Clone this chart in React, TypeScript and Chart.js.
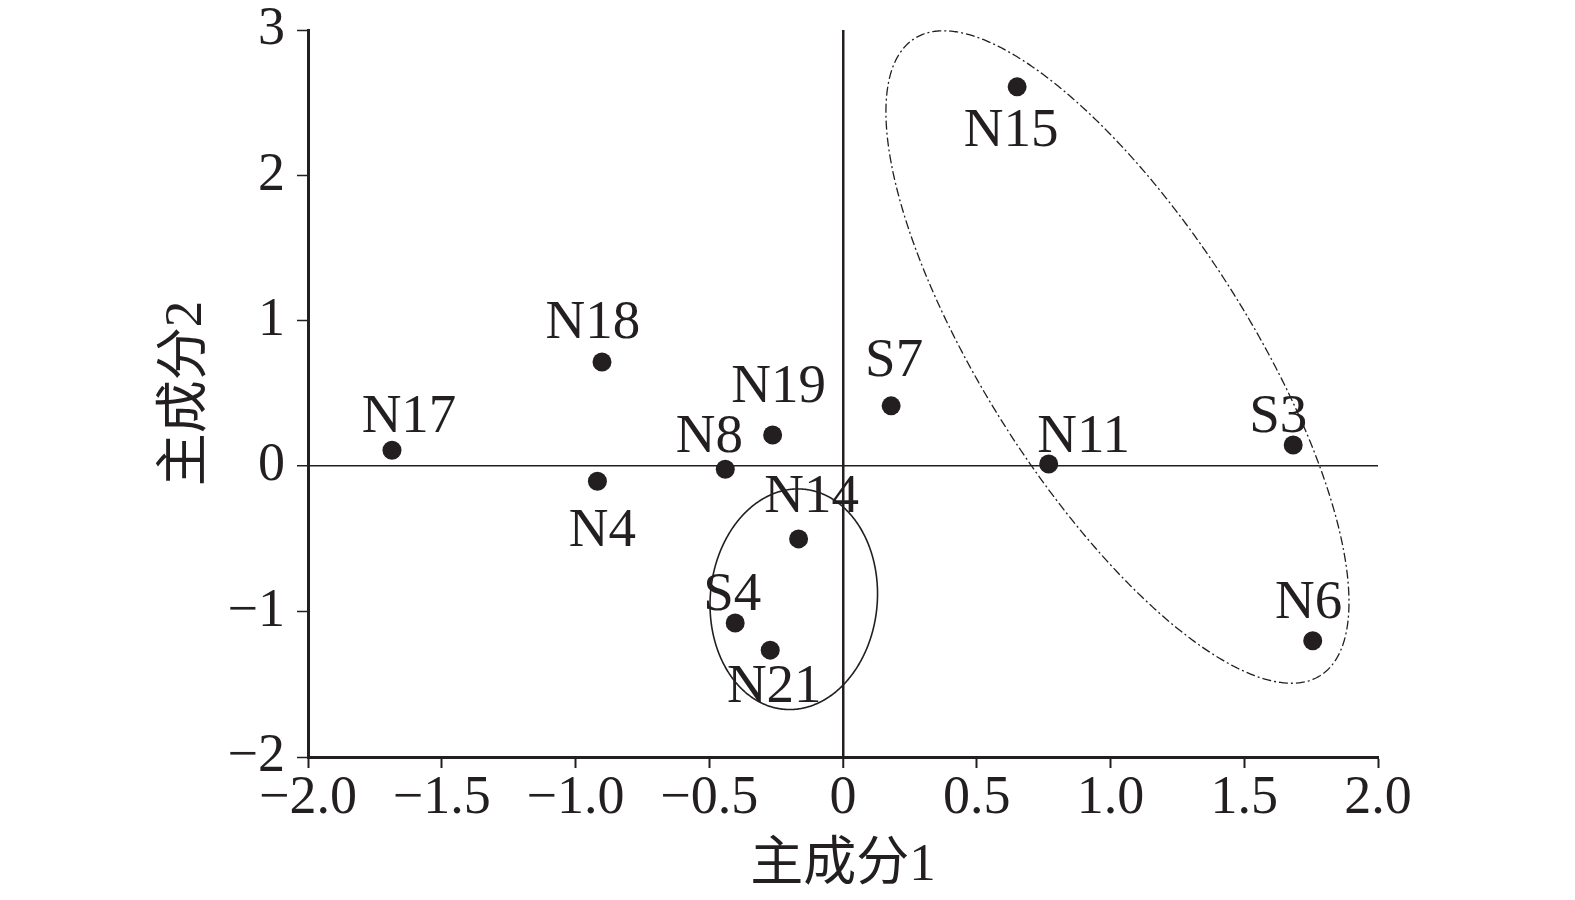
import React, { useEffect, useRef } from "react";
import { Chart, registerables } from "chart.js";

Chart.register(...registerables);

// ---- data ----
const POINT_NAMES = ["N17", "N18", "N4", "N8", "N19", "N14", "S4", "N21", "S7", "N15", "N11", "S3", "N6"];
const PC1 = [-1.686, -0.901, -0.918, -0.44, -0.263, -0.166, -0.403, -0.272, 0.18, 0.651, 0.769, 1.683, 1.756];
const PC2 = [0.11, 0.717, -0.103, -0.021, 0.215, -0.5, -1.078, -1.265, 0.415, 2.609, 0.015, 0.146, -1.201];

const X_TICKS = [-2, -1.5, -1, -0.5, 0, 0.5, 1, 1.5, 2];
const X_TICK_LABELS = ["−2.0", "−1.5", "−1.0", "−0.5", "0", "0.5", "1.0", "1.5", "2.0"];
const Y_TICKS = [-2, -1, 0, 1, 2, 3];
const Y_TICK_LABELS = ["−2", "−1", "0", "1", "2", "3"];

const X_TITLE = "主成分1";
const Y_TITLE = "主成分2";

// group ellipses in data units: centre + two conjugate half-axis vectors
const ELLIPSE_BIG = { cx: 1.026, cy: 0.751, u: [0.759, -2.19], v: [-0.416, -0.488] };
const ELLIPSE_SMALL = { cx: -0.184, cy: -0.915, u: [0.0361, 0.757], v: [0.311, -0.05] };

// ---- layout / style (label placement relative to its point, px) ----
const LABEL_OFFSETS: [number, number][] = [
  [17, -18], [-9, -24], [5, 65], [-16, -17], [6, -33], [13, -27], [-3, -13],
  [4, 52], [3, -30], [-6, 59], [35, -12], [-15, -13], [-4, -23],
];

const INK = "#231f20";
const SERIF = '"Liberation Serif", "Times New Roman", serif';
const TITLE_FONT = '"Liberation Serif", "Noto Sans CJK SC", serif';

function drawEllipse(chart: any, e: any, dash: number[], width: number) {
  const xs = chart.scales.x;
  const ys = chart.scales.y;
  const pcx = xs.getPixelForValue(e.cx);
  const pcy = ys.getPixelForValue(e.cy);
  const ux = xs.getPixelForValue(e.cx + e.u[0]) - pcx;
  const uy = ys.getPixelForValue(e.cy + e.u[1]) - pcy;
  const vx = xs.getPixelForValue(e.cx + e.v[0]) - pcx;
  const vy = ys.getPixelForValue(e.cy + e.v[1]) - pcy;
  const ctx = chart.ctx;
  ctx.save();
  ctx.beginPath();
  const n = 720;
  for (let i = 0; i <= n; i++) {
    const t = (i / n) * Math.PI * 2;
    const px = pcx + ux * Math.cos(t) + vx * Math.sin(t);
    const py = pcy + uy * Math.cos(t) + vy * Math.sin(t);
    if (i === 0) ctx.moveTo(px, py);
    else ctx.lineTo(px, py);
  }
  ctx.closePath();
  ctx.setLineDash(dash);
  ctx.lineWidth = width;
  ctx.strokeStyle = INK;
  ctx.stroke();
  ctx.restore();
}

const annotationPlugin = {
  id: "pcaAnnotations",
  beforeDatasetsDraw(chart: any) {
    drawEllipse(chart, ELLIPSE_BIG, [9, 3, 2, 3], 1.3);
    drawEllipse(chart, ELLIPSE_SMALL, [], 1.6);
  },
  afterDatasetsDraw(chart: any) {
    const meta = chart.getDatasetMeta(0);
    const ctx = chart.ctx;
    ctx.save();
    ctx.font = `55px ${SERIF}`;
    ctx.fillStyle = INK;
    ctx.textAlign = "center";
    ctx.textBaseline = "alphabetic";
    meta.data.forEach((el: any, i: number) => {
      const [dx, dy] = LABEL_OFFSETS[i];
      ctx.fillText(POINT_NAMES[i], el.x + dx, el.y + dy);
    });
    ctx.restore();
  },
};

export default function App() {
  const ref = useRef<HTMLCanvasElement>(null);
  useEffect(() => {
    const points = PC1.map((x, i) => ({ x, y: PC2[i] }));
    const chart = new Chart(ref.current as HTMLCanvasElement, {
      type: "scatter",
      data: {
        datasets: [
          {
            data: points,
            pointRadius: 9.5,
            pointHoverRadius: 9.5,
            pointBackgroundColor: INK,
            pointBorderWidth: 0,
            backgroundColor: INK,
          },
        ],
      },
      options: {
        responsive: false,
        animation: false,
        events: [],
        layout: { padding: { top: 30, right: 197, bottom: 0, left: 0 } },
        plugins: { legend: { display: false }, tooltip: { enabled: false } },
        scales: {
          x: {
            type: "linear",
            min: -2,
            max: 2,
            afterBuildTicks: (scale: any) => {
              scale.ticks = X_TICKS.map((v) => ({ value: v }));
            },
            afterFit: (scale: any) => {
              scale.height = 143;
              scale.paddingLeft = 0;
              scale.paddingRight = 0;
            },
            border: { display: true, width: 3, color: INK },
            grid: {
              drawOnChartArea: true,
              color: (c: any) => (c.tick && c.tick.value === 0 ? INK : "rgba(0,0,0,0)"),
              lineWidth: (c: any) => (c.tick && c.tick.value === 0 ? 2.5 : 1),
              tickColor: INK,
              tickWidth: 2,
              tickLength: 11,
            },
            ticks: {
              autoSkip: false,
              maxRotation: 0,
              padding: 4,
              color: INK,
              font: { family: SERIF, size: 54, lineHeight: 1 },
              callback: (v: any) => X_TICK_LABELS[X_TICKS.indexOf(Number(v))],
            },
            title: {
              display: true,
              text: X_TITLE,
              color: INK,
              font: { family: TITLE_FONT, size: 53 },
              padding: { top: 0, bottom: 2 },
            },
          },
          y: {
            type: "linear",
            min: -2,
            max: 3,
            afterBuildTicks: (scale: any) => {
              scale.ticks = Y_TICKS.map((v) => ({ value: v }));
            },
            afterFit: (scale: any) => {
              scale.width = 308;
              scale.paddingTop = 0;
              scale.paddingBottom = 0;
            },
            border: { display: true, width: 3, color: INK },
            grid: {
              drawOnChartArea: true,
              color: (c: any) => (c.tick && c.tick.value === 0 ? INK : "rgba(0,0,0,0)"),
              lineWidth: (c: any) => (c.tick && c.tick.value === 0 ? 1.5 : 1),
              tickColor: INK,
              tickWidth: 1.5,
              tickLength: 11,
            },
            ticks: {
              autoSkip: false,
              padding: 12,
              color: INK,
              font: { family: SERIF, size: 54, lineHeight: 1 },
              callback: (v: any) => Y_TICK_LABELS[Y_TICKS.indexOf(Number(v))],
            },
            title: {
              display: true,
              text: Y_TITLE,
              color: INK,
              font: { family: TITLE_FONT, size: 53 },
              padding: { top: 155, bottom: 0 },
            },
          },
        },
      },
      plugins: [annotationPlugin],
    } as any);
    return () => chart.destroy();
  }, []);
  return (
    <div style={{ position: "absolute", left: 0, top: 0, width: 1575, height: 900, background: "#fff" }}>
      <canvas ref={ref} width={1575} height={900} style={{ display: "block", width: 1575, height: 900 }} />
    </div>
  );
}
